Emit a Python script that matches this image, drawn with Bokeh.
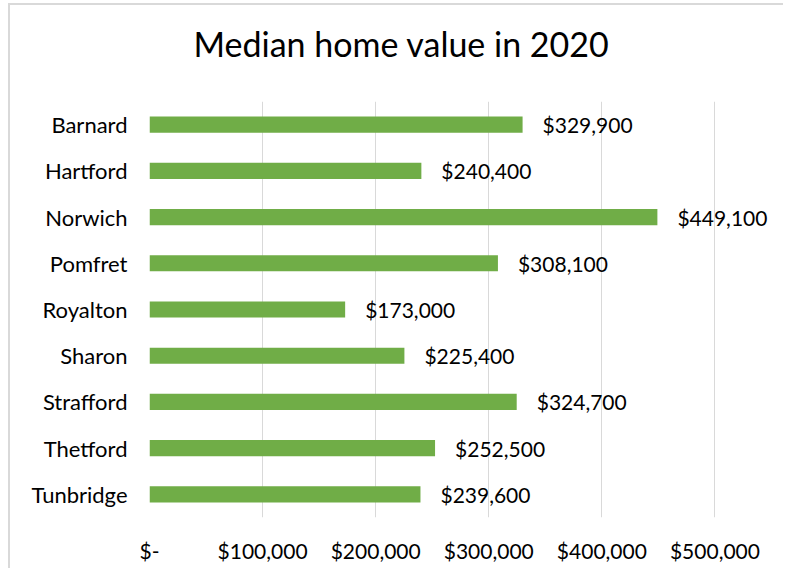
from bokeh.plotting import figure
from bokeh.models import ColumnDataSource, FixedTicker, Title, LabelSet
from bokeh.core.properties import value
from bokeh.embed import file_html
from bokeh.resources import INLINE

towns = ["Barnard", "Hartford", "Norwich", "Pomfret", "Royalton", "Sharon",
         "Strafford", "Thetford", "Tunbridge"]
values = [329900, 240400, 449100, 308100, 173000, 225400, 324700, 252500, 239600]
tick_values = [0, 100000, 200000, 300000, 400000, 500000]
tick_labels = ["$-", "$100,000", "$200,000", "$300,000", "$400,000", "$500,000"]
title_text = "Median home value in 2020"

FONT = "Lato"
labels = ["${:,}".format(v) for v in values]
src = ColumnDataSource(dict(town=towns, value=values, label=labels))

p = figure(width=775, height=565, output_backend="svg", toolbar_location=None,
           y_range=list(reversed(towns)), x_range=(0, 550000),
           min_border_left=139, min_border_right=14, min_border_top=96,
           min_border_bottom=53)
p.styles = {"margin-left": "8px", "margin-top": "3px",
            "border-top": "2px solid #d9d9d9", "border-left": "2px solid #d9d9d9"}
p.outline_line_color = None

p.hbar(y="town", right="value", left=0, height=0.35, source=src,
       fill_color="#70ad47", line_color=None)

p.add_layout(LabelSet(x="value", y="town", text="label", source=src,
                      x_offset=20, text_baseline="middle", text_align="left",
                      text_font=value(FONT), text_font_size="21px",
                      text_color="#000000"))

# blank spacer panel between the frame and the title
spacer = Title(text=" ", text_font=FONT, text_font_size="10px", standoff=22)
p.add_layout(spacer, "above")

t = Title(text=title_text, text_font=FONT, text_font_size="34px",
          text_font_style="normal", text_color="#000000", align="left",
          offset=44, standoff=4)
p.add_layout(t, "above")

p.xaxis.ticker = FixedTicker(ticks=tick_values)
p.xaxis.major_label_overrides = {v: l for v, l in zip(tick_values, tick_labels)}
p.xgrid.ticker = FixedTicker(ticks=tick_values)
p.xgrid.grid_line_color = "#d9d9d9"
p.xgrid.grid_line_width = 1
p.ygrid.grid_line_color = None

for ax in (p.xaxis, p.yaxis):
    ax.axis_line_color = None
    ax.major_tick_line_color = None
    ax.minor_tick_line_color = None
    ax.major_tick_out = 0
    ax.major_tick_in = 0
    ax.major_label_text_font = FONT
    ax.major_label_text_color = "#000000"
p.xaxis.major_label_text_font_size = "21px"
p.yaxis.major_label_text_font_size = "22px"
p.xaxis.major_label_standoff = 20
p.yaxis.major_label_standoff = 22

open("out.html", "w").write(file_html(p, INLINE))
